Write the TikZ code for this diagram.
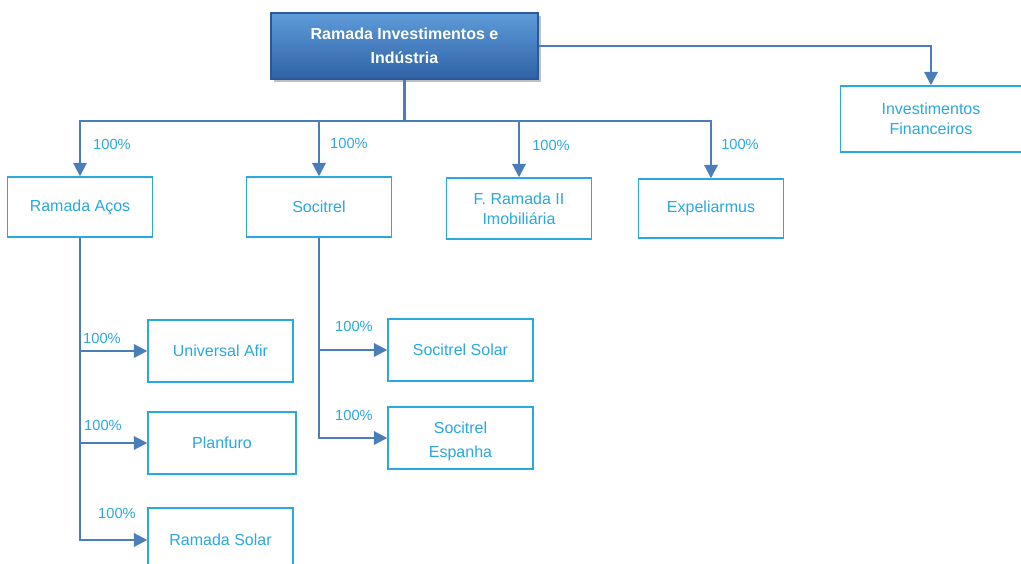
\documentclass[tikz,border=0pt]{standalone}
\usepackage{fontspec}
\setmainfont{Liberation Sans}
\usetikzlibrary{arrows.meta,shadows}
\definecolor{linec}{HTML}{4A7EBB}
\definecolor{boxc}{HTML}{2AA8E0}
\definecolor{topA}{HTML}{5E9BD8}
\definecolor{topB}{HTML}{2F62A6}
\definecolor{topE}{HTML}{2A5A9A}
\begin{document}
\begin{tikzpicture}[x=0.75pt,y=-0.75pt,
  ent/.style={draw=boxc,line width=1.1pt,fill=white,text=boxc,font=\fontsize{12}{15}\selectfont,align=center,inner sep=0pt},
  topbox/.style={draw=topE,line width=0.8pt,top color=topA,bottom color=topB,text=white,font=\bfseries\fontsize{12}{18}\selectfont,align=center,inner sep=0pt,drop shadow={shadow xshift=2.5pt,shadow yshift=-2.5pt,opacity=0.5}},
  conn/.style={draw=linec,line width=1.6pt},
  arr/.style={conn,-{Triangle[width=10pt,length=10pt]}},
  pct/.style={text=boxc,font=\fontsize{11}{13}\selectfont,inner sep=0pt}]
\useasboundingbox (0,0) rectangle (1021,564);
\node[topbox,minimum width=200.25pt,minimum height=49.5pt] (top) at (404.5,46) {Ramada Investimentos e\\Indústria};
\node[ent,minimum width=136pt,minimum height=49.5pt] (fin) at (931,119) {Investimentos\\Financeiros};
\node[ent,minimum width=108.75pt,minimum height=45pt] (aco) at (80,207) {Ramada Aços};
\node[ent,minimum width=108.75pt,minimum height=45pt] (soc) at (319,207) {Socitrel};
\node[ent,minimum width=108.75pt,minimum height=45.75pt] (imo) at (519,208.5) {F. Ramada II\\Imobiliária};
\node[ent,minimum width=108.75pt,minimum height=44.25pt] (exp) at (711,208.5) {Expeliarmus};
\node[ent,minimum width=108.75pt,minimum height=46.5pt] (uni) at (220.5,351) {Universal Afir};
\node[ent,minimum width=111pt,minimum height=46.5pt] (pla) at (222,443) {Planfuro};
\node[ent,minimum width=108.75pt,minimum height=48pt] (rsol) at (220.5,540) {Ramada Solar};
\node[ent,minimum width=108.75pt,minimum height=46.5pt] (ssol) at (460.5,350) {Socitrel Solar};
\node[ent,minimum width=108.75pt,minimum height=46.5pt,font=\fontsize{12}{18}\selectfont] (sesp) at (460.5,438) {\rule{0pt}{13pt}Socitrel\\Espanha};
\coordinate (hub) at (404.5,121);
\draw[conn] (top.south) -- (hub);
\draw[arr] (hub) -| (aco.north);
\draw[arr] (hub) -| (soc.north);
\draw[arr] (hub) -| (imo.north);
\draw[arr] (hub) -| (exp.north);
\draw[arr] (top.east) -| (fin.north);
\draw[arr] (aco.south) |- (rsol.west);
\draw[arr] (aco.south |- uni.west) -- (uni.west);
\draw[arr] (aco.south |- pla.west) -- (pla.west);
\draw[arr] (soc.south) |- (sesp.west);
\draw[arr] (soc.south |- ssol.west) -- (ssol.west);
\node[pct] (p1) at (112,144) {100\%};
\node[pct] (p2) at (349,143) {100\%};
\node[pct] (p3) at (551,145) {100\%};
\node[pct] (p4) at (740,144) {100\%};
\node[pct] (p5) at (102,338) {100\%};
\node[pct] (p6) at (103,425) {100\%};
\node[pct] (p7) at (117,513) {100\%};
\node[pct] (p8) at (354,326) {100\%};
\node[pct] (p9) at (354,415) {100\%};
\end{tikzpicture}
\end{document}
